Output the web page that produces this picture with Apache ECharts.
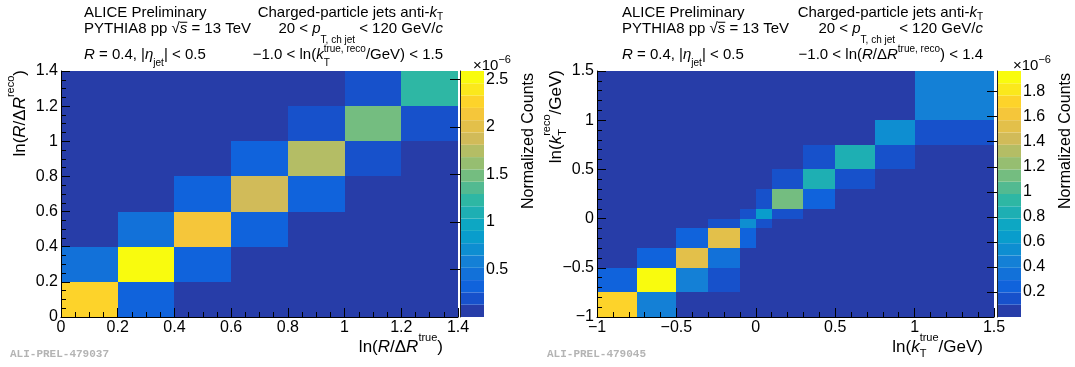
<!DOCTYPE html>
<html>
<head>
<meta charset="utf-8">
<script src="https://cdn.jsdelivr.net/npm/echarts@6/dist/echarts.min.js"></script>
<style>
  html, body { margin: 0; padding: 0; background: #fff; }
  #main { width: 1075px; height: 367px; }
</style>
</head>
<body>
<div id="main"></div>
<script>
// values read off the two response matrices, in units of 1e-6
// rows = reco bins (bottom to top), columns = true bins (left to right)
var leftEdges = [0, 0.2, 0.4, 0.6, 0.8, 1.0, 1.2, 1.4];
var leftCounts = [
  [2.30, 0.32, 0,    0,    0,    0,    0],
  [0.50, 2.57, 0.32, 0,    0,    0,    0],
  [0,    0.50, 2.15, 0.30, 0,    0,    0],
  [0,    0,    0.30, 1.88, 0.28, 0,    0],
  [0,    0,    0,    0.28, 1.75, 0.20, 0],
  [0,    0,    0,    0,    0.20, 1.50, 0.20],
  [0,    0,    0,    0,    0,    0.20, 1.24]
];
var leftZmax = 2.59;

var rightEdges = [-1, -0.75, -0.5, -0.3, -0.1, 0, 0.1, 0.3, 0.5, 0.75, 1, 1.5];
var rightCounts = [
  [1.72, 0.42, 0,    0,    0,    0,    0,    0,    0,    0,    0],
  [0.28, 1.95, 0.44, 0.15, 0,    0,    0,    0,    0,    0,    0],
  [0,    0.28, 1.52, 0.30, 0,    0,    0,    0,    0,    0,    0],
  [0,    0,    0.28, 1.52, 0.28, 0,    0,    0,    0,    0,    0],
  [0,    0,    0,    0.15, 0.55, 0.15, 0,    0,    0,    0,    0],
  [0,    0,    0,    0,    0.15, 0.65, 0.15, 0,    0,    0,    0],
  [0,    0,    0,    0,    0,    0.15, 1.13, 0.25, 0,    0,    0],
  [0,    0,    0,    0,    0,    0,    0.15, 0.83, 0.15, 0,    0],
  [0,    0,    0,    0,    0,    0,    0,    0.15, 0.83, 0.15, 0],
  [0,    0,    0,    0,    0,    0,    0,    0,    0,    0.54, 0.15],
  [0,    0,    0,    0,    0,    0,    0,    0,    0,    0,    0.44]
];
var rightZmax = 1.965;

var nBands = 20;

// ROOT kBird palette
var birdStops = [0, 0.125, 0.25, 0.375, 0.5, 0.625, 0.75, 0.875, 1];
var birdRed   = [0.2082, 0.0592, 0.0780, 0.0232, 0.1802, 0.5301, 0.8186, 0.9956, 0.9764];
var birdGreen = [0.1664, 0.3599, 0.5041, 0.6419, 0.7178, 0.7492, 0.7328, 0.7862, 0.9832];
var birdBlue  = [0.5293, 0.8684, 0.8385, 0.7914, 0.6425, 0.4662, 0.3499, 0.1968, 0.0539];

function bird(t) {
  var k = 0;
  while (k < birdStops.length - 2 && t > birdStops[k + 1]) k++;
  var f = (t - birdStops[k]) / (birdStops[k + 1] - birdStops[k]);
  var c = function (a) { return Math.round(255 * (a[k] + (a[k + 1] - a[k]) * f)); };
  return 'rgb(' + c(birdRed) + ',' + c(birdGreen) + ',' + c(birdBlue) + ')';
}
function bandColor(band) {
  var idx = Math.floor((band + 0.99) * 255 / nBands);
  return bird(idx / 254);
}
function colorOf(v, zmax) {
  var b = Math.floor(v / zmax * nBands);
  return bandColor(Math.max(0, Math.min(nBands - 1, b)));
}

var FONT = '"Liberation Sans", Arial, Helvetica, sans-serif';
var measure = document.createElement('canvas').getContext('2d');
function fontOf(o) { return (o.it ? 'italic ' : '') + o.s + 'px ' + FONT; }

// tiny latex-ish layout: parts = [text, {it, s, dy, stack, bar}]
function tex(parts, x, y, align, base, extra) {
  var cur = 0, lastStart = 0, lastW = 0;
  var items = parts.map(function (p) {
    var o = Object.assign({ s: base }, p[1] || {});
    measure.font = fontOf(o);
    var w = measure.measureText(p[0]).width;
    var px;
    if (o.stack) { px = lastStart; cur = lastStart + Math.max(lastW, w); }
    else { px = cur; lastStart = cur; lastW = w; cur += w; }
    return { t: p[0], o: o, x: px, w: w };
  });
  var x0 = align === 'right' ? -cur : (align === 'center' ? -cur / 2 : 0);
  var kids = [];
  items.forEach(function (it) {
    kids.push({ type: 'text', x: x0 + it.x, y: it.o.dy || 0, silent: true,
      style: { text: it.t, font: fontOf(it.o), fill: '#000', textAlign: 'left', textVerticalAlign: 'middle' } });
    if (it.o.bar) {
      var yb = -it.o.s * 0.45;
      kids.push({ type: 'line', silent: true, shape: { x1: x0 + it.x, y1: yb, x2: x0 + it.x + it.w, y2: yb },
        style: { stroke: '#000', lineWidth: 1 } });
    }
  });
  return Object.assign({ type: 'group', x: x, y: y, children: kids }, extra || {});
}

function fmt(v) {
  var a = Math.abs(+(+v).toFixed(3));
  return (v < -1e-9 ? '\u2212' : '') + a;
}

function mainAxis(grid, min, max, step, split) {
  return {
    gridIndex: grid, type: 'value', min: min, max: max, interval: step, z: 10,
    axisLine: { show: true, onZero: false, lineStyle: { color: '#000', width: 1 } },
    axisTick: { show: true, inside: true, length: 9, lineStyle: { color: '#000' } },
    minorTick: { show: true, splitNumber: split, length: 5, lineStyle: { color: '#000' } },
    splitLine: { show: false },
    minorSplitLine: { show: false },
    axisLabel: { color: '#000', fontSize: 16, fontFamily: FONT, margin: 3, formatter: fmt }
  };
}
function barX(grid) {
  return { gridIndex: grid, type: 'value', min: 0, max: 1, show: false };
}
function barY(grid, zmax, step) {
  return {
    gridIndex: grid, type: 'value', position: 'right', min: 0, max: zmax, interval: step, z: 10,
    axisLine: { show: true, lineStyle: { color: '#222', width: 1 } },
    axisTick: { show: true, inside: true, length: 10, lineStyle: { color: '#000' } },
    splitLine: { show: false },
    axisLabel: { color: '#000', fontSize: 16, fontFamily: FONT, margin: 2, formatter: fmt,
      showMinLabel: false, showMaxLabel: false }
  };
}

function cellSeries(axis, edgesX, edgesY, counts, zmax) {
  var data = [];
  counts.forEach(function (row, j) {
    row.forEach(function (v, i) {
      data.push([edgesX[i], edgesX[i + 1], edgesY[j], edgesY[j + 1], v]);
    });
  });
  return {
    type: 'custom', xAxisIndex: axis, yAxisIndex: axis, silent: true, animation: false, z: 1,
    encode: { x: [0, 1], y: [2, 3] },
    data: data,
    renderItem: function (params, api) {
      var p0 = api.coord([api.value(0), api.value(2)]);
      var p1 = api.coord([api.value(1), api.value(3)]);
      var x0 = Math.round(p0[0]), x1 = Math.round(p1[0]);
      var y0 = Math.round(p1[1]), y1 = Math.round(p0[1]);
      return { type: 'rect', shape: { x: x0, y: y0, width: x1 - x0, height: y1 - y0 },
        style: { fill: colorOf(api.value(4), zmax), stroke: null } };
    }
  };
}

function paletteSeries(axis, zmax) {
  var bands = [];
  for (var i = 0; i < nBands; i++) bands.push([i]);
  return {
    type: 'custom', xAxisIndex: axis, yAxisIndex: axis, silent: true, animation: false, z: 1,
    data: bands,
    renderItem: function (params, api) {
      var b = api.value(0);
      var p0 = api.coord([0, b * zmax / nBands]);
      var p1 = api.coord([1, (b + 1) * zmax / nBands]);
      return { type: 'rect', shape: { x: p0[0], y: p1[1], width: p1[0] - p0[0], height: p0[1] - p1[1] },
        style: { fill: bandColor(b), stroke: null } };
    }
  };
}

var it = { it: 1 };
var graphics = [];
function panelHeader(oxL, oxR, line3) {
  graphics.push(tex([['ALICE Preliminary']], 84 + oxL, 13, 'left', 15));
  graphics.push(tex([['PYTHIA8 pp \u221A'], ['s', { it: 1, bar: 1 }], [' = 13 TeV']], 84 + oxL, 29, 'left', 15));
  graphics.push(tex([['R', it], [' = 0.4, |'], ['\u03B7', it], ['jet', { s: 10, dy: 8 }], ['| < 0.5']], 84 + oxL, 55, 'left', 15));
  graphics.push(tex([['Charged-particle jets anti-'], ['k', it], ['T', { s: 10, dy: 4 }]], 443 + oxR, 13, 'right', 15));
  graphics.push(tex([['20 < '], ['p', it], ['T, ch jet', { s: 10, dy: 11 }], [' < 120 GeV/'], ['c', it]], 443 + oxR, 29, 'right', 15));
  graphics.push(tex(line3, 443 + oxR, 55, 'right', 15));
}
panelHeader(0, 0, [['\u22121.0 < ln('], ['k', it], ['T', { s: 10, dy: 8 }], ['true, reco', { s: 10, dy: -6, stack: 1 }], ['/GeV) < 1.5']]);
panelHeader(538, 540, [['\u22121.0 < ln('], ['R', it], ['/\u0394'], ['R', it], ['true, reco', { s: 10, dy: -6 }], [') < 1.4']]);

// axis titles
graphics.push(tex([['ln('], ['R', it], ['/\u0394'], ['R', it], ['true', { s: 11, dy: -9 }], [')']], 443, 347, 'right', 17));
graphics.push(tex([['ln('], ['R', it], ['/\u0394'], ['R', it], ['reco', { s: 11, dy: -9 }], [')']], 0, 0, 'right', 17,
  { x: 20, y: 70, rotation: Math.PI / 2 }));
graphics.push(tex([['ln('], ['k', it], ['T', { s: 11, dy: 7 }], ['true', { s: 11, dy: -9, stack: 1 }], ['/GeV)']], 983, 347, 'right', 17));
graphics.push(tex([['ln('], ['k', it], ['T', { s: 11, dy: 7 }], ['reco', { s: 11, dy: -9, stack: 1 }], ['/GeV)']], 0, 0, 'right', 17,
  { x: 556, y: 70, rotation: Math.PI / 2 }));

// colour bar titles and exponents
graphics.push(tex([['Normalized Counts']], 0, 0, 'right', 16, { x: 529, y: 73, rotation: Math.PI / 2 }));
graphics.push(tex([['Normalized Counts']], 0, 0, 'right', 16, { x: 1066, y: 73, rotation: Math.PI / 2 }));
graphics.push(tex([['\u00D710'], ['\u22126', { s: 11, dy: -6 }]], 473, 66, 'left', 15));
graphics.push(tex([['\u00D710'], ['\u22126', { s: 11, dy: -6 }]], 1013, 66, 'left', 15));

// preliminary ids
graphics.push({ type: 'text', x: 10, y: 354, silent: true,
  style: { text: 'ALI-PREL-479037', font: 'bold 11px "Liberation Mono", "DejaVu Sans Mono", monospace', fill: '#b4b4b4', textVerticalAlign: 'middle' } });
graphics.push({ type: 'text', x: 547, y: 354, silent: true,
  style: { text: 'ALI-PREL-479045', font: 'bold 11px "Liberation Mono", "DejaVu Sans Mono", monospace', fill: '#b4b4b4', textVerticalAlign: 'middle' } });

var chart = echarts.init(document.getElementById('main'), null, { renderer: 'canvas' });
chart.setOption({
  animation: false,
  backgroundColor: '#fff',
  grid: [
    { left: 61, top: 71, width: 397, height: 246 },
    { left: 460, top: 71, width: 24, height: 246 },
    { left: 597, top: 71, width: 397, height: 246 },
    { left: 997, top: 71, width: 24, height: 246 }
  ],
  xAxis: [
    mainAxis(0, 0, 1.4, 0.2, 4),
    barX(1),
    mainAxis(2, -1, 1.5, 0.5, 5),
    barX(3)
  ],
  yAxis: [
    mainAxis(0, 0, 1.4, 0.2, 4),
    barY(1, leftZmax, 0.5),
    mainAxis(2, -1, 1.5, 0.5, 5),
    barY(3, rightZmax, 0.2)
  ],
  series: [
    cellSeries(0, leftEdges, leftEdges, leftCounts, leftZmax),
    paletteSeries(1, leftZmax),
    cellSeries(2, rightEdges, rightEdges, rightCounts, rightZmax),
    paletteSeries(3, rightZmax)
  ],
  graphic: graphics
});
</script>
</body>
</html>
